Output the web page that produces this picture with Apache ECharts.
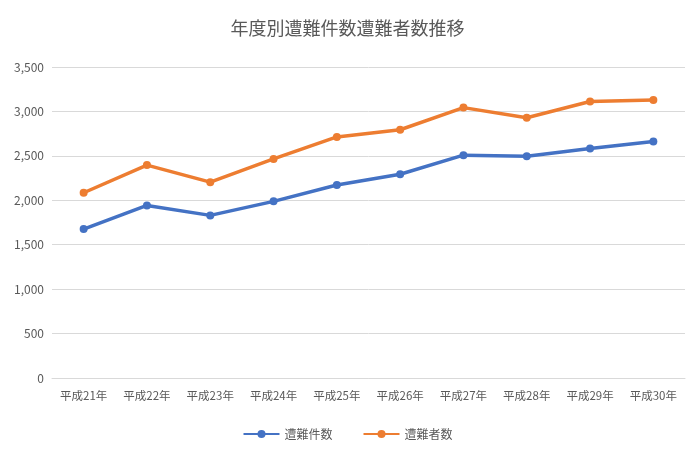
<!DOCTYPE html>
<html><head><meta charset="utf-8">
<script src="https://cdn.jsdelivr.net/npm/echarts@6/dist/echarts.min.js"></script>
<style>html,body{margin:0;padding:0;background:#fff}#c{width:695px;height:453px}</style>
</head><body><div id="c"></div>
<script>
const categories=['平成21年','平成22年','平成23年','平成24年','平成25年','平成26年','平成27年','平成28年','平成29年','平成30年'];
const incidents=[1676,1942,1830,1988,2172,2293,2508,2495,2583,2661];
const victims=[2085,2396,2204,2465,2713,2794,3043,2929,3111,3129];
const font='"Noto Sans CJK JP", sans-serif';
const chart=echarts.init(document.getElementById('c'));
chart.setOption({
  animation:false,
  title:{text:'年度別遭難件数遭難者数推移',left:'center',top:14,textStyle:{fontFamily:font,fontSize:18,fontWeight:'normal',color:'#595959'}},
  legend:{bottom:8,itemGap:30,itemWidth:36,itemHeight:10,textStyle:{fontFamily:font,fontSize:12,color:'#595959'},data:['遭難件数','遭難者数']},
  grid:{left:52,right:10,top:67,bottom:75,containLabel:false},
  xAxis:{type:'category',data:categories,axisLine:{lineStyle:{color:'#d9d9d9'}},axisTick:{show:false},axisLabel:{interval:0,fontFamily:font,fontSize:11.5,color:'#595959',margin:12}},
  yAxis:{type:'value',min:0,max:3500,interval:500,axisLine:{show:false},axisTick:{show:false},splitLine:{lineStyle:{color:'#d9d9d9'}},axisLabel:{fontFamily:font,fontSize:12,color:'#595959',formatter:v=>v.toLocaleString('en-US')}},
  series:[
    {name:'遭難件数',type:'line',data:incidents,symbol:'circle',symbolSize:8,lineStyle:{width:3.5,color:'#4472C4'},itemStyle:{color:'#4472C4'}},
    {name:'遭難者数',type:'line',data:victims,symbol:'circle',symbolSize:8,lineStyle:{width:3.5,color:'#ED7D31'},itemStyle:{color:'#ED7D31'}}
  ]
});
</script></body></html>
